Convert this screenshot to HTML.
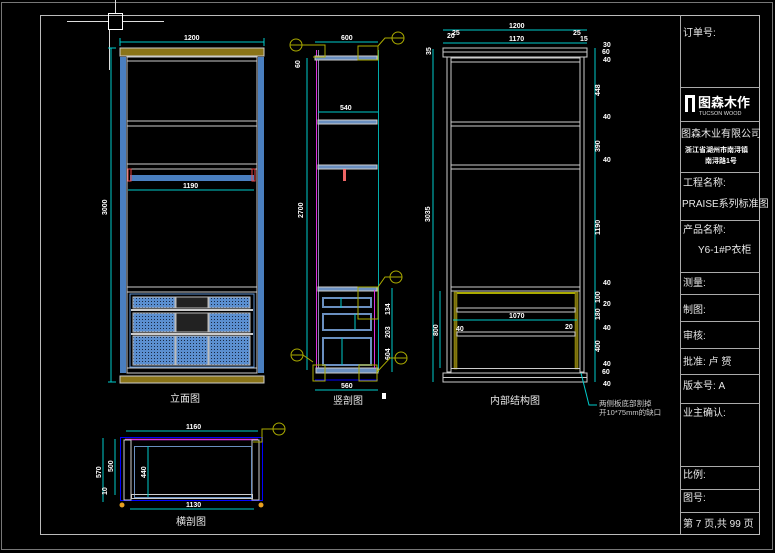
<!DOCTYPE html>
<html><head><meta charset="utf-8"><style>
html,body{margin:0;padding:0;background:#000;}
svg{display:block}
text{font-family:"Liberation Sans","Noto Sans CJK SC",sans-serif;}
.d{fill:#fff;font-size:7px;font-weight:bold}
.t{fill:#e8e8e8;font-size:10px}
</style></head><body>
<svg width="775" height="553" viewBox="0 0 775 553" xmlns="http://www.w3.org/2000/svg">
<defs>
<pattern id="mesh" width="3" height="3" patternUnits="userSpaceOnUse">
<rect width="3" height="3" fill="#5b8fd0"/><rect x="1" y="1" width="1" height="1" fill="#1a2a44"/>
</pattern>
</defs>
<rect width="775" height="553" fill="#000"/>
<!-- borders -->
<rect x="1.5" y="2.5" width="771" height="547" fill="none" stroke="#777" stroke-width="1"/>
<rect x="40.5" y="15.5" width="719" height="519" fill="none" stroke="#bbb" stroke-width="1"/>
<!-- crosshair -->
<line x1="115.5" y1="0" x2="115.5" y2="13" stroke="#ddd"/>
<line x1="109.5" y1="29" x2="109.5" y2="70" stroke="#ddd"/>
<line x1="67" y1="21.5" x2="108" y2="21.5" stroke="#ddd"/>
<line x1="123" y1="21.5" x2="164" y2="21.5" stroke="#ddd"/>
<rect x="108.5" y="13.5" width="14" height="16" fill="none" stroke="#fff"/>

<!-- title block -->
<g stroke="#aaa" stroke-width="1" fill="none">
<line x1="680.5" y1="15" x2="680.5" y2="534"/>
<line x1="680" y1="87.5" x2="760" y2="87.5"/>
<line x1="680" y1="121.5" x2="760" y2="121.5"/>
<line x1="680" y1="172.5" x2="760" y2="172.5"/>
<line x1="680" y1="220.5" x2="760" y2="220.5"/>
<line x1="680" y1="272.5" x2="760" y2="272.5"/>
<line x1="680" y1="294.5" x2="760" y2="294.5"/>
<line x1="680" y1="321.5" x2="760" y2="321.5"/>
<line x1="680" y1="348.5" x2="760" y2="348.5"/>
<line x1="680" y1="374.5" x2="760" y2="374.5"/>
<line x1="680" y1="403.5" x2="760" y2="403.5"/>
<line x1="680" y1="466.5" x2="760" y2="466.5"/>
<line x1="680" y1="489.5" x2="760" y2="489.5"/>
<line x1="680" y1="512.5" x2="760" y2="512.5"/>
</g>
<text class="t" x="683" y="36">订单号:</text>
<rect x="685" y="95" width="3" height="17" fill="#fff"/><rect x="692" y="95" width="3" height="17" fill="#fff"/><rect x="685" y="95" width="10" height="3" fill="#fff"/>
<text x="698" y="107" fill="#fff" font-size="13" font-weight="bold" font-family="Liberation Sans,Noto Sans CJK SC,sans-serif">图森木作</text>
<text x="699" y="115" fill="#ddd" font-size="5.5" font-family="Liberation Sans,sans-serif">TUCSON WOOD</text>
<text class="t" x="681" y="137">图森木业有限公司</text>
<text x="685" y="152" fill="#fff" font-size="7" font-weight="bold">浙江省湖州市南浔镇</text>
<text x="705" y="163" fill="#fff" font-size="7" font-weight="bold">南浔路1号</text>
<text class="t" x="683" y="186">工程名称:</text>
<text class="t" x="682" y="207" font-size="9.5">PRAISE系列标准图</text>
<text class="t" x="683" y="233">产品名称:</text>
<text class="t" x="698" y="253">Y6-1#P衣柜</text>
<text class="t" x="683" y="286">测量:</text>
<text class="t" x="683" y="313">制图:</text>
<text class="t" x="683" y="339">审核:</text>
<text class="t" x="683" y="365">批准: 卢  赟</text>
<text class="t" x="683" y="389">版本号:  A</text>
<text class="t" x="683" y="416">业主确认:</text>
<text class="t" x="683" y="478">比例:</text>
<text class="t" x="683" y="501">图号:</text>
<text class="t" x="683" y="527">第 7 页,共 99 页</text>

<!-- ===== 立面图 ===== -->
<g>
<line x1="120" y1="42" x2="264" y2="42" stroke="#0cc"/>
<line x1="120" y1="38" x2="120" y2="46" stroke="#0cc"/><line x1="264" y1="38" x2="264" y2="46" stroke="#0cc"/>
<text class="d" x="184" y="40">1200</text>
<line x1="111" y1="48" x2="111" y2="382" stroke="#0cc"/>
<line x1="108" y1="48" x2="116" y2="48" stroke="#0cc"/><line x1="108" y1="382" x2="116" y2="382" stroke="#0cc"/>
<text class="d" transform="translate(107,215) rotate(-90)">3000</text>
<rect x="120" y="48" width="144" height="8" fill="#8a7418" stroke="#ccc" stroke-width="1"/>
<rect x="120" y="376" width="144" height="7" fill="#8a7418" stroke="#ccc" stroke-width="1"/>
<rect x="120" y="57" width="6" height="316" fill="#4a7fc0"/>
<rect x="258" y="57" width="6" height="316" fill="#4a7fc0"/>
<rect x="127" y="57" width="130" height="316" fill="none" stroke="#ccc"/>
<line x1="127" y1="61" x2="257" y2="61" stroke="#ccc"/>
<rect x="127" y="121" width="130" height="5" fill="none" stroke="#ccc"/>
<rect x="127" y="164" width="130" height="5" fill="none" stroke="#ccc"/>
<rect x="130" y="175" width="124" height="6" fill="#4a7fc0"/>
<rect x="128" y="169" width="3" height="12" fill="none" stroke="#e44"/>
<rect x="252" y="169" width="3" height="12" fill="none" stroke="#e44"/>
<line x1="128" y1="190" x2="254" y2="190" stroke="#0cc"/>
<text class="d" x="183" y="188">1190</text>
<rect x="127" y="287" width="130" height="5" fill="none" stroke="#ccc"/>
<rect x="130" y="294" width="124" height="73" fill="#000" stroke="#5b8fd0"/>
<g stroke="#bbb" stroke-width="1">
<rect x="133" y="297" width="42" height="11" fill="url(#mesh)"/>
<rect x="176" y="297" width="32" height="11" fill="#222"/>
<rect x="209" y="297" width="41" height="11" fill="url(#mesh)"/>
<rect x="133" y="313" width="42" height="19" fill="url(#mesh)"/>
<rect x="176" y="313" width="32" height="19" fill="#222"/>
<rect x="209" y="313" width="41" height="19" fill="url(#mesh)"/>
<rect x="133" y="336" width="42" height="29" fill="url(#mesh)"/>
<rect x="176" y="336" width="32" height="29" fill="url(#mesh)"/>
<rect x="209" y="336" width="41" height="29" fill="url(#mesh)"/>
</g>
<line x1="131" y1="310" x2="253" y2="310" stroke="#ccc" stroke-width="2"/>
<line x1="131" y1="334" x2="253" y2="334" stroke="#ccc" stroke-width="2"/>
<rect x="127" y="368" width="130" height="5" fill="none" stroke="#ccc"/>
<text class="t" x="170" y="402">立面图</text>
</g>

<!-- ===== 竖剖图 ===== -->
<g>
<line x1="315" y1="42" x2="378" y2="42" stroke="#0cc"/>
<text class="d" x="341" y="40">600</text>
<line x1="307" y1="58" x2="307" y2="370" stroke="#0cc"/>
<text class="d" transform="translate(303,218) rotate(-90)">2700</text>
<text class="d" transform="translate(300,68) rotate(-90)">60</text>
<line x1="316.5" y1="50" x2="316.5" y2="372" stroke="#d3d"/>
<line x1="318.5" y1="50" x2="318.5" y2="372" stroke="#88a"/>
<line x1="378.5" y1="50" x2="378.5" y2="372" stroke="#0aa"/>
<g fill="#6a8fc0" stroke="#ccc">
<rect x="315" y="56" width="62" height="4"/>
<rect x="318" y="120" width="59" height="4"/>
<rect x="318" y="165" width="59" height="4"/>
<rect x="318" y="287" width="59" height="4"/>
<rect x="316" y="368" width="62" height="5"/>
</g>
<rect x="343" y="169" width="3" height="12" fill="#e66"/>
<line x1="318" y1="112" x2="378" y2="112" stroke="#0cc"/>
<text class="d" x="340" y="110">540</text>
<g fill="none" stroke="#6a8fc0" stroke-width="2">
<rect x="323" y="298" width="48" height="9"/>
<rect x="323" y="314" width="48" height="16"/>
<rect x="323" y="338" width="48" height="27"/>
</g>
<line x1="341" y1="298" x2="341" y2="308" stroke="#0cc"/><line x1="355" y1="314" x2="355" y2="330" stroke="#0cc"/><line x1="342" y1="338" x2="342" y2="365" stroke="#0cc"/>
<line x1="374.5" y1="290" x2="374.5" y2="368" stroke="#d3d"/>
<line x1="315" y1="380" x2="378" y2="380" stroke="#00f"/>
<line x1="315" y1="390" x2="378" y2="390" stroke="#0cc"/>
<text class="d" x="341" y="388">560</text>
<line x1="392" y1="288" x2="392" y2="372" stroke="#0cc"/>
<text class="d" transform="translate(390,315) rotate(-90)">134</text>
<text class="d" transform="translate(390,338) rotate(-90)">203</text>
<text class="d" transform="translate(390,360) rotate(-90)">604</text>
<g fill="none" stroke="#aa0">
<circle cx="296" cy="45" r="6"/><line x1="290" y1="45" x2="302" y2="45"/>
<circle cx="398" cy="38" r="6"/><line x1="392" y1="38" x2="404" y2="38"/>
<circle cx="396" cy="277" r="6"/><line x1="390" y1="277" x2="402" y2="277"/>
<circle cx="297" cy="355" r="6"/><line x1="291" y1="355" x2="303" y2="355"/>
<circle cx="401" cy="358" r="6"/><line x1="395" y1="358" x2="407" y2="358"/>
<polyline points="302,45 325,45 325,57 313,57"/>
<rect x="358" y="46" width="20" height="14"/><polyline points="378,46 385,38 392,38"/>
<rect x="358" y="287" width="20" height="32"/><polyline points="378,287 385,277 390,277"/>
<rect x="313" y="365" width="12" height="16"/><polyline points="303,355 313,362"/>
<rect x="359" y="365" width="18" height="16"/><polyline points="377,372 390,358 395,358"/>
</g>
<rect x="382" y="393" width="4" height="6" fill="#fff"/>
<text class="t" x="333" y="404">竖剖图</text>
</g>

<!-- ===== 内部结构图 ===== -->
<g>
<line x1="443" y1="30" x2="587" y2="30" stroke="#0cc"/>
<text class="d" x="509" y="28">1200</text>
<line x1="443" y1="43" x2="587" y2="43" stroke="#0cc"/>
<text class="d" x="509" y="41">1170</text>
<text class="d" x="447" y="38" font-size="6">20</text><text class="d" x="452" y="35" font-size="6">25</text>
<text class="d" x="573" y="35" font-size="6">25</text><text class="d" x="580" y="41" font-size="6">15</text>
<rect x="443" y="48" width="144" height="9" fill="none" stroke="#ccc"/>
<line x1="443" y1="52" x2="587" y2="52" stroke="#ccc"/>
<rect x="447" y="57" width="4" height="315" fill="none" stroke="#ccc"/>
<rect x="580" y="57" width="4" height="315" fill="none" stroke="#ccc"/>
<rect x="451" y="58" width="129" height="4" fill="none" stroke="#ccc"/>
<rect x="451" y="122" width="129" height="4" fill="none" stroke="#ccc"/>
<rect x="451" y="165" width="129" height="4" fill="none" stroke="#ccc"/>
<rect x="451" y="287" width="129" height="4" fill="none" stroke="#ccc"/>
<rect x="454" y="292" width="3" height="77" fill="#776a10" stroke="#aa0" stroke-width="0.5"/>
<rect x="575" y="292" width="3" height="77" fill="#776a10" stroke="#aa0" stroke-width="0.5"/>
<line x1="457" y1="293" x2="575" y2="293" stroke="#aa0" stroke-width="2"/>
<rect x="457" y="308" width="118" height="4" fill="none" stroke="#ccc"/>
<rect x="457" y="332" width="118" height="4" fill="none" stroke="#ccc"/>
<line x1="451" y1="368.5" x2="580" y2="368.5" stroke="#ccc"/>
<line x1="453" y1="320" x2="577" y2="320" stroke="#0cc"/>
<text class="d" x="509" y="318">1070</text>
<text class="d" x="456" y="331" font-size="6">40</text><text class="d" x="565" y="329" font-size="6">20</text>
<rect x="443" y="373" width="144" height="9" fill="none" stroke="#ccc"/>
<line x1="443" y1="377.5" x2="587" y2="377.5" stroke="#ccc"/>
<line x1="433" y1="49" x2="433" y2="382" stroke="#0cc"/>
<text class="d" transform="translate(430,222) rotate(-90)">3035</text>
<text class="d" transform="translate(431,55) rotate(-90)" font-size="6">35</text>
<line x1="440" y1="291" x2="440" y2="368" stroke="#0cc"/>
<text class="d" transform="translate(438,336) rotate(-90)">800</text>
<line x1="595" y1="48" x2="595" y2="382" stroke="#0cc"/>
<g class="d" font-size="6">
<text transform="translate(600,96) rotate(-90)">448</text>
<text transform="translate(600,152) rotate(-90)">390</text>
<text transform="translate(600,235) rotate(-90)">1190</text>
<text transform="translate(600,303) rotate(-90)">100</text>
<text transform="translate(600,320) rotate(-90)">180</text>
<text transform="translate(600,352) rotate(-90)">400</text>
<text x="603" y="47">30</text><text x="602" y="54">60</text><text x="603" y="62">40</text>
<text x="603" y="119">40</text><text x="603" y="162">40</text>
<text x="603" y="285">40</text><text x="603" y="306">20</text><text x="603" y="330">40</text>
<text x="603" y="366">40</text><text x="602" y="374">60</text><text x="603" y="386">40</text>
</g>
<polyline points="581,373 589,405 597,405" fill="none" stroke="#0cc"/>
<text x="599" y="406" fill="#ccc" font-size="7.5">两侧板底部割掉</text>
<text x="599" y="415" fill="#ccc" font-size="7.5">开10*75mm的缺口</text>
<text class="t" x="490" y="404">内部结构图</text>
</g>

<!-- ===== 横剖图 ===== -->
<g>
<line x1="126" y1="431" x2="258" y2="431" stroke="#0cc"/>
<text class="d" x="186" y="429">1160</text>
<rect x="120.5" y="437.5" width="142" height="63" fill="none" stroke="#00f"/>
<line x1="125" y1="439.5" x2="258" y2="439.5" stroke="#d3d" stroke-width="1.5"/>
<rect x="124" y="440" width="7" height="60" fill="none" stroke="#ccc"/>
<rect x="252" y="440" width="7" height="60" fill="none" stroke="#ccc"/>
<rect x="134.5" y="446.5" width="117" height="51" fill="none" stroke="#6a8fc0"/>
<rect x="131.5" y="494.5" width="121" height="4" fill="none" stroke="#ccc"/>
<line x1="148" y1="446" x2="148" y2="497" stroke="#0cc"/>
<text class="d" transform="translate(146,478) rotate(-90)">440</text>
<line x1="130" y1="509" x2="254" y2="509" stroke="#0cc"/>
<text class="d" x="186" y="507">1130</text>
<line x1="103" y1="438" x2="103" y2="502" stroke="#0cc"/>
<line x1="115" y1="439" x2="115" y2="495" stroke="#0cc"/>
<text class="d" transform="translate(101,478) rotate(-90)">570</text>
<text class="d" transform="translate(113,472) rotate(-90)">500</text>
<text class="d" transform="translate(107,495) rotate(-90)">10</text>
<circle cx="122" cy="505" r="2.5" fill="#e8a020"/>
<circle cx="261" cy="505" r="2.5" fill="#e8a020"/>
<circle cx="279" cy="429" r="6" fill="none" stroke="#aa0"/>
<line x1="273" y1="429" x2="285" y2="429" stroke="#aa0"/>
<polyline points="273,429 262,429 262,442 253,442" fill="none" stroke="#aa0"/>
<text class="t" x="176" y="525">横剖图</text>
</g>
</svg>
</body></html>
